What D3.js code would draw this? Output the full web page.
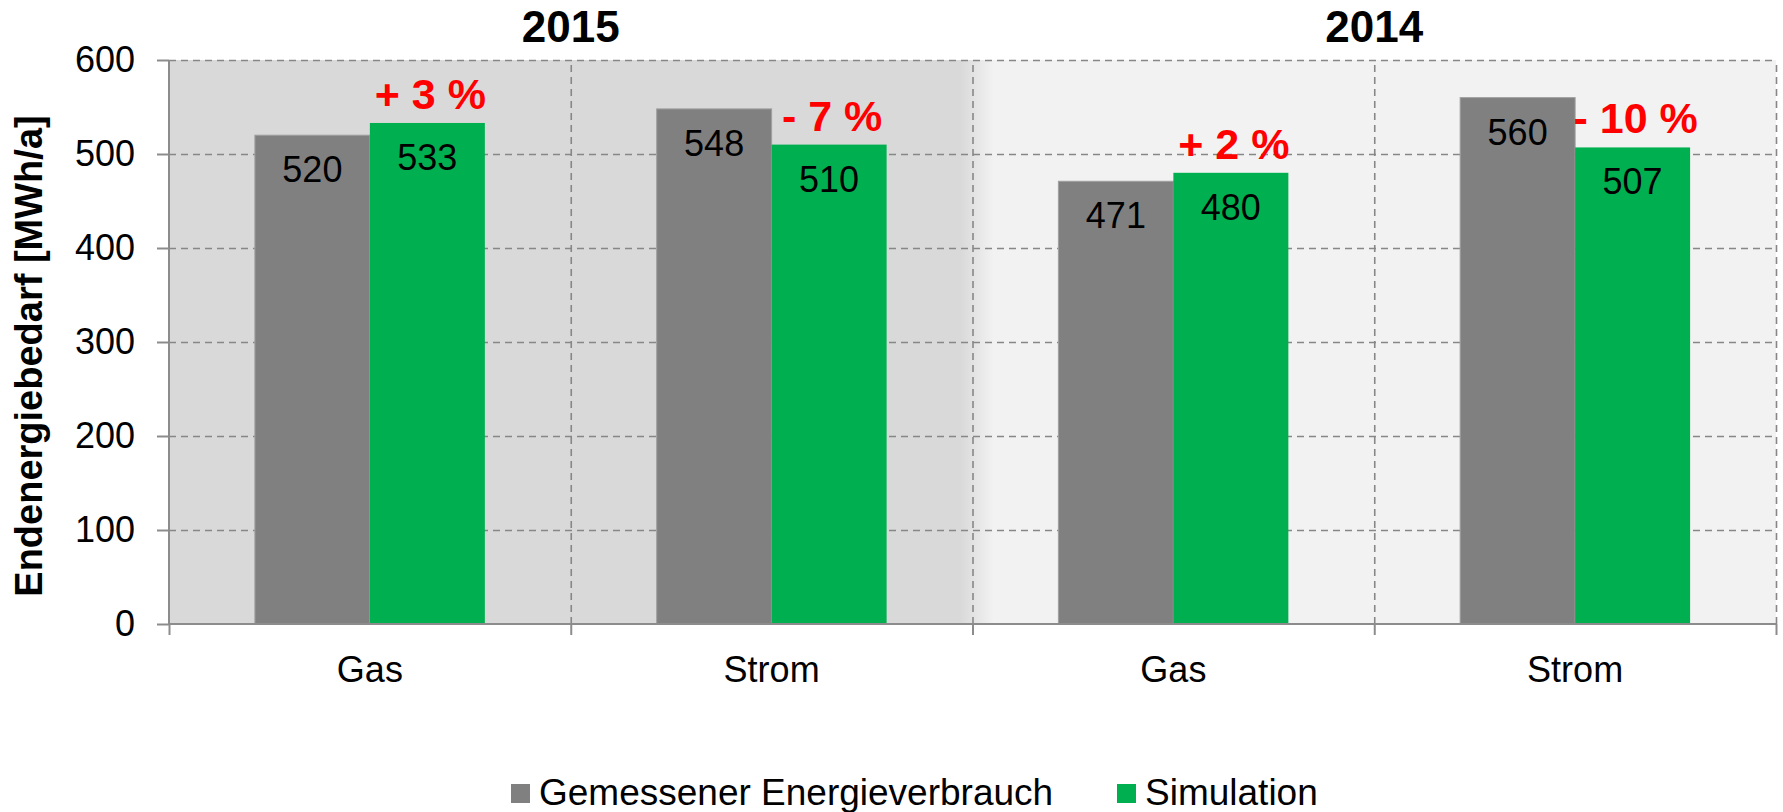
<!DOCTYPE html>
<html>
<head>
<meta charset="utf-8">
<script src="https://cdn.jsdelivr.net/npm/d3@7"></script>
<style>
  html, body { margin: 0; padding: 0; background: #fff; }
  svg { display: block; font-family: Arial, "Liberation Sans", sans-serif; }
</style>
</head>
<body>
<svg id="chart" width="1783" height="812"></svg>
<script>
"use strict";

// chart values
var years = ["2015", "2014"];
var categories = ["Gas", "Strom"];
var seriesNames = ["Gemessener Energieverbrauch", "Simulation"];
var gemessen = [520, 548, 471, 560];
var simulation = [533, 510, 480, 507];
var deltaLabels = ["+ 3 %", "- 7 %", "+ 2 %", "- 10 %"];
var yTicks = [0, 100, 200, 300, 400, 500, 600];

var colors = ["#808080", "#00b050"];

var W = 1783, H = 812,
    m = [60, 7, 188, 169]; // top right bottom left
var pw = W - m[1] - m[3],
    ph = H - m[0] - m[2];

var svg = d3.select("#chart");

// one band per year/category pair
var groups = [];
years.forEach(function(yr) {
  categories.forEach(function(c) { groups.push(yr + "|" + c); });
});

var x = d3.scaleBand().domain(groups).range([0, pw]).paddingInner(0).paddingOuter(0);
var xs = d3.scaleBand().domain(seriesNames).range([0, x.bandwidth()]).paddingInner(0).paddingOuter(0.747);
var xl = d3.scaleLinear().domain([0, groups.length]).range([0, pw]);
var y = d3.scaleLinear().domain([0, 600]).range([ph, 0]);

var g = svg.append("g").attr("transform", "translate(" + m[3] + "," + m[0] + ")");

// background: darker for the first year, lighter for the second
var defs = svg.append("defs");
var grad = defs.append("linearGradient").attr("id", "bg").attr("x1", "0").attr("x2", "1").attr("y1", "0").attr("y2", "0");
var s1 = (x(groups[2]) - 12) / pw, s2 = (x(groups[2]) + 21) / pw;
grad.append("stop").attr("offset", s1).attr("stop-color", "#d9d9d9");
grad.append("stop").attr("offset", s2).attr("stop-color", "#f2f2f2");

g.append("rect")
  .attr("width", pw).attr("height", ph)
  .attr("fill", "url(#bg)");

// horizontal grid
var grid = g.append("g")
  .call(d3.axisLeft(y).tickValues(yTicks.slice(1)).tickSize(-pw).tickFormat(""));
grid.select(".domain").remove();
grid.selectAll("line")
  .attr("stroke", "#878787").attr("stroke-width", 1.6).attr("stroke-dasharray", "7,5");

// vertical grid at band boundaries
var vgrid = g.append("g")
  .call(d3.axisBottom(xl).tickValues(d3.range(1, groups.length + 1)).tickSize(-ph).tickFormat(""))
  .attr("transform", "translate(0," + ph + ")");
vgrid.select(".domain").remove();
vgrid.selectAll("line")
  .attr("stroke", "#878787").attr("stroke-width", 1.6).attr("stroke-dasharray", "7,5");

// bars
var rows = groups.map(function(k, i) {
  return { key: k, vals: [gemessen[i], simulation[i]], delta: deltaLabels[i] };
});

var grp = g.selectAll(".grp").data(rows).enter().append("g")
  .attr("class", "grp")
  .attr("transform", function(d) { return "translate(" + x(d.key) + ",0)"; });

grp.selectAll("rect").data(function(d) {
    return d.vals.map(function(v, j) { return { s: seriesNames[j], v: v, j: j }; });
  })
  .enter().append("rect")
  .attr("x", function(d) { return xs(d.s); })
  .attr("y", function(d) { return y(d.v); })
  .attr("width", xs.bandwidth())
  .attr("height", function(d) { return y(0) - y(d.v); })
  .attr("fill", function(d) { return colors[d.j]; })
  .attr("stroke", function(d) { return d.j === 0 ? "#a0a0a0" : "none"; })
  .attr("stroke-width", 1);

grp.selectAll("text.val").data(function(d) {
    return d.vals.map(function(v, j) { return { s: seriesNames[j], v: v }; });
  })
  .enter().append("text")
  .attr("class", "val")
  .attr("x", function(d) { return xs(d.s) + xs.bandwidth() / 2; })
  .attr("y", function(d) { return y(d.v) + 47; })
  .attr("text-anchor", "middle")
  .style("font-size", "36px")
  .attr("fill", "#000")
  .text(function(d) { return d.v; });

grp.append("text")
  .attr("x", xs(seriesNames[1]) + xs.bandwidth() / 2 + 3)
  .attr("y", function(d) { return y(d.vals[1]) - 14; })
  .attr("text-anchor", "middle")
  .style("font-size", "43px")
  .style("font-weight", "bold")
  .attr("fill", "#ff0000")
  .text(function(d) { return d.delta; });

// y axis
var yAxis = g.append("g").call(d3.axisLeft(y).tickValues(yTicks).tickSize(12).tickPadding(22));
yAxis.select(".domain").attr("stroke", "#8c8c8c").attr("stroke-width", 2).attr("d", "M0,0V" + ph);
yAxis.selectAll("line").attr("stroke", "#8c8c8c").attr("stroke-width", 2);
yAxis.selectAll("text").style("font-size", "36px").attr("fill", "#000").attr("font-family", null);

// x axis: ticks at boundaries, labels at band centres
var xAxis = g.append("g").attr("transform", "translate(0," + ph + ")")
  .call(d3.axisBottom(xl).tickValues(d3.range(0, groups.length + 1)).tickSize(11).tickFormat(""));
xAxis.select(".domain").attr("stroke", "#8c8c8c").attr("stroke-width", 2).attr("d", "M0,0H" + pw);
xAxis.selectAll("line").attr("stroke", "#8c8c8c").attr("stroke-width", 2);

g.append("g").selectAll("text").data(groups).enter().append("text")
  .attr("x", function(d) { return x(d) + x.bandwidth() / 2; })
  .attr("y", ph + 58)
  .attr("text-anchor", "middle")
  .style("font-size", "36px")
  .text(function(d) { return d.split("|")[1]; });

// year headers
g.append("g").selectAll("text").data(years).enter().append("text")
  .attr("x", function(d) { return x(d + "|" + categories[1]); })
  .attr("y", -18)
  .attr("text-anchor", "middle")
  .style("font-size", "44px")
  .style("font-weight", "bold")
  .text(function(d) { return d; });

// y title
svg.append("text")
  .attr("transform", "translate(42," + (m[0] + ph / 2 + 14) + ") rotate(-90)")
  .attr("text-anchor", "middle")
  .style("font-size", "38px")
  .style("font-weight", "bold")
  .text("Endenergiebedarf [MWh/a]");

// legend
var legX = [511, 1117];
var leg = svg.append("g").selectAll("g").data(seriesNames).enter().append("g")
  .attr("transform", function(d, i) { return "translate(" + legX[i] + ",784)"; });
leg.append("rect").attr("width", 19).attr("height", 19)
  .attr("fill", function(d, i) { return colors[i]; });
leg.append("text").attr("x", 28).attr("y", 21)
  .style("font-size", "37px")
  .text(function(d) { return d; });
</script>
</body>
</html>
